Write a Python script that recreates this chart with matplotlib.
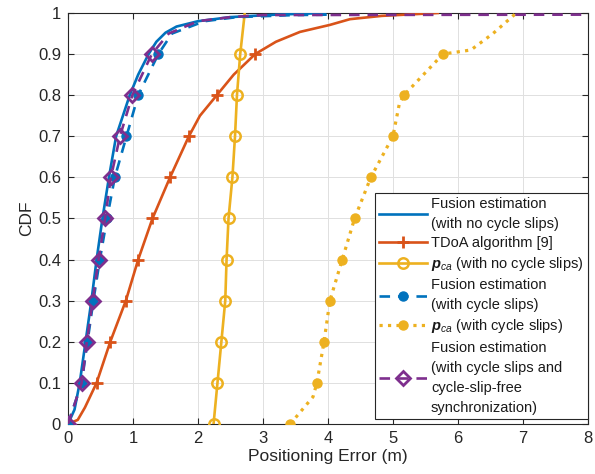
import numpy as np
import matplotlib
matplotlib.use("Agg")
import matplotlib.pyplot as plt

plt.rcParams['font.family'] = ['Liberation Sans', 'DejaVu Sans']
plt.rcParams['mathtext.fontset'] = 'custom'
plt.rcParams['mathtext.rm'] = 'Liberation Sans'
plt.rcParams['mathtext.it'] = 'Liberation Sans:italic'
plt.rcParams['mathtext.bf'] = 'Liberation Sans:bold'
plt.rcParams['mathtext.bfit'] = 'Liberation Sans:italic:bold'

# CDF curves (x = positioning error in m, y = CDF)
fus_x = [0, 0.1, 0.18, 0.27, 0.36, 0.44, 0.53, 0.63, 0.74, 0.95, 1.08, 1.24, 1.36, 1.5, 1.67, 2.0, 2.5, 3.2, 3.95]
fus_y = [0, 0.035, 0.1, 0.2, 0.3, 0.4, 0.5, 0.6, 0.7, 0.8, 0.85, 0.9, 0.93, 0.952, 0.967, 0.98, 0.99, 0.996, 1.0]

tdoa_x = [0, 0.15, 0.26, 0.44, 0.65, 0.89, 1.08, 1.3, 1.57, 1.86, 2.03, 2.29, 2.55, 2.88, 3.2, 3.57, 4.03, 4.34, 4.83, 5.69]
tdoa_y = [0, 0.01, 0.04, 0.1, 0.2, 0.3, 0.4, 0.5, 0.6, 0.7, 0.75, 0.8, 0.85, 0.9, 0.93, 0.954, 0.971, 0.985, 0.993, 1.0]

pca_x = [2.24, 2.3, 2.36, 2.42, 2.44, 2.47, 2.53, 2.57, 2.6, 2.65, 2.72]
pca_y = [0, 0.1, 0.2, 0.3, 0.4, 0.5, 0.6, 0.7, 0.8, 0.9, 1.0]

fus_cs_x = [0, 0.21, 0.3, 0.39, 0.49, 0.6, 0.72, 0.9, 1.08, 1.39, 1.6, 2.1, 2.6, 3.5, 4.0]
fus_cs_y = [0, 0.1, 0.2, 0.3, 0.4, 0.5, 0.6, 0.7, 0.8, 0.9, 0.95, 0.98, 0.99, 0.995, 0.996]

pca_cs_x = [3.42, 3.77, 3.83, 3.94, 4.03, 4.22, 4.41, 4.66, 5.0, 5.1, 5.17, 5.77, 6.2, 6.54, 6.9]
pca_cs_y = [0, 0.066, 0.1, 0.2, 0.3, 0.4, 0.5, 0.6, 0.7, 0.78, 0.8, 0.9, 0.91, 0.95, 1.0]

sync_x = [0, 0.21, 0.29, 0.38, 0.47, 0.57, 0.66, 0.8, 0.99, 1.29, 1.55, 2.0, 2.5, 3.0, 8.0]
sync_y = [0, 0.1, 0.2, 0.3, 0.4, 0.5, 0.6, 0.7, 0.8, 0.9, 0.95, 0.98, 0.99, 0.995, 0.996]

labels = ['Fusion estimation\n(with no cycle slips)',
          'TDoA algorithm [9]',
          r'$\mathbfit{p}_{ca}$ (with no cycle slips)',
          'Fusion estimation\n(with cycle slips)',
          r'$\mathbfit{p}_{ca}$ (with cycle slips)',
          'Fusion estimation\n(with cycle slips and\ncycle-slip-free\nsynchronization)']

xticks = [0, 1, 2, 3, 4, 5, 6, 7, 8]
yticks = [0, 0.1, 0.2, 0.3, 0.4, 0.5, 0.6, 0.7, 0.8, 0.9, 1.0]
yticklabels = ['0', '0.1', '0.2', '0.3', '0.4', '0.5', '0.6', '0.7', '0.8', '0.9', '1']

blue = '#0072BD'
red = '#D95319'
yellow = '#EDB120'
purple = '#7E2F8E'


def marks(ys, levels):
    # indices of points sitting on the marker levels
    ys = np.array(ys)
    return [i for i, v in enumerate(ys) if any(np.isclose(v, l) for l in levels)]


lv_all = [0, 0.1, 0.2, 0.3, 0.4, 0.5, 0.6, 0.7, 0.8, 0.9]
lv_red = [0.1, 0.2, 0.3, 0.4, 0.5, 0.6, 0.7, 0.8, 0.9]

fig = plt.figure(figsize=(5.95, 4.74), dpi=100)
ax = fig.add_axes([0.1143, 0.1055, 0.8737, 0.8671])

lw = 1.9
ax.plot(fus_x, fus_y, '-', color=blue, lw=lw, label=labels[0], zorder=6)
ax.plot(tdoa_x, tdoa_y, '-', color=red, lw=lw, marker='+', ms=8, mew=2,
        markevery=marks(tdoa_y, lv_red), label=labels[1], zorder=3)
ax.plot(pca_x, pca_y, '-', color=yellow, lw=lw, marker='o', ms=7.5, mew=1.8,
        mfc='none', markevery=marks(pca_y, lv_all), label=labels[2], zorder=3)
ax.plot(fus_cs_x, fus_cs_y, '--', color=blue, lw=lw, marker='o', ms=6.5,
        dashes=(4, 3), markevery=marks(fus_cs_y, lv_all), label=labels[3], zorder=4)
ax.plot(pca_cs_x, pca_cs_y, ':', color=yellow, lw=2.3, marker='o', ms=6.5,
        markevery=marks(pca_cs_y, lv_all), label=labels[4], zorder=3)
ax.plot(sync_x, sync_y, '--', color=purple, lw=lw, marker='D', ms=7, mew=2,
        mfc='none', dashes=(4, 3), markevery=marks(sync_y, lv_all), label=labels[5], zorder=7)

ax.set_xlim(0, 8)
ax.set_ylim(0, 1)
ax.set_xticks(xticks)
ax.set_yticks(yticks)
ax.set_yticklabels(yticklabels)
ax.grid(True, color='0.88', lw=0.7)
ax.set_axisbelow(True)
ax.tick_params(direction='in', length=4, width=0.8, top=True, right=True,
               labelsize=12, colors='0.15', pad=5)
for s in ax.spines.values():
    s.set_color('0.15')
    s.set_linewidth(0.8)
ax.set_xlabel('Positioning Error (m)', fontsize=12.5, color='0.15', labelpad=2)
ax.set_ylabel('CDF', fontsize=12.5, color='0.15', labelpad=3)

leg = ax.legend(loc='lower right', bbox_to_anchor=(1.0, 0.012), borderaxespad=0,
                fontsize=10.5, fancybox=False, edgecolor='0.15', framealpha=1,
                handlelength=3.3, handletextpad=0.25, labelspacing=0.35,
                borderpad=0.3)
leg.get_frame().set_linewidth(0.8)
for t in leg.get_texts():
    t.set_linespacing(1.55)
    t.set_color('0.1')

fig.savefig('out.png', dpi=100)
